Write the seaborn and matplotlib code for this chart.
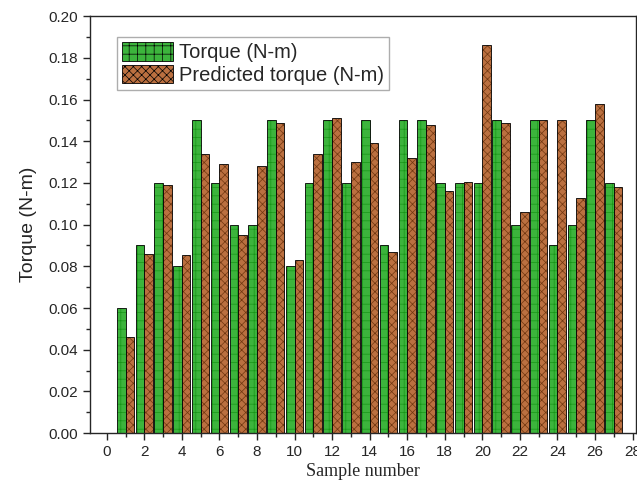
import numpy as np
import pandas as pd
import matplotlib
matplotlib.use('Agg')
import matplotlib.pyplot as plt
from matplotlib.ticker import MultipleLocator
import seaborn as sns

# values
samples = list(range(1, 28))
torque = [0.06, 0.09, 0.12, 0.08, 0.15, 0.12, 0.10, 0.10, 0.15, 0.08,
          0.12, 0.15, 0.12, 0.15, 0.09, 0.15, 0.15, 0.12, 0.12, 0.12,
          0.15, 0.10, 0.15, 0.09, 0.10, 0.15, 0.12]
predicted = [0.046, 0.086, 0.119, 0.0855, 0.134, 0.129, 0.095, 0.128, 0.149, 0.083,
             0.134, 0.151, 0.130, 0.139, 0.087, 0.132, 0.148, 0.116, 0.1205, 0.186,
             0.149, 0.106, 0.150, 0.150, 0.113, 0.158, 0.118]
series_names = ['Torque (N-m)', 'Predicted torque (N-m)']

df = pd.DataFrame({
    'sample': samples * 2,
    'value': torque + predicted,
    'series': [series_names[0]] * len(samples) + [series_names[1]] * len(samples),
})

sns.set_style('ticks')
plt.rcParams['font.family'] = ['Liberation Sans', 'DejaVu Sans']
plt.rcParams['hatch.linewidth'] = 0.5

fig = plt.figure(figsize=(6.37, 4.91), dpi=100)
ax = fig.add_axes([0.141, 0.118, 0.858, 0.849])

colors = ['#28c828', '#cf6c2c']
sns.barplot(data=df, x='sample', y='value', hue='series', native_scale=True,
            palette=colors, width=0.92, dodge=True, edgecolor='black',
            linewidth=0.6, ax=ax, legend=True)

# green bars get a grid pattern, orange bars a fine cross pattern
hatches = {series_names[0]: '++', series_names[1]: 'xxxx'}
hatch_colors = ['#189618', '#70360f']
for cont, name, hc in zip(ax.containers, series_names, hatch_colors):
    for p in cont:
        p.set_hatch(hatches[name])
        p._hatch_color = matplotlib.colors.to_rgba(hc)

ax.set_xlim(-0.9, 28.2)
ax.set_ylim(0, 0.20)
ax.xaxis.set_major_locator(MultipleLocator(2))
ax.xaxis.set_minor_locator(MultipleLocator(1))
ax.yaxis.set_major_locator(MultipleLocator(0.02))
ax.yaxis.set_minor_locator(MultipleLocator(0.01))
ax.yaxis.set_major_formatter(matplotlib.ticker.FormatStrFormatter('%.2f'))
ax.tick_params(which='major', direction='out', length=5, width=1, labelsize=11)
ax.tick_params(which='minor', direction='out', length=3, width=1)
for s in ax.spines.values():
    s.set_linewidth(1)

ax.set_xlabel('Sample number', family=['Liberation Serif'], fontsize=13, labelpad=3)
ax.set_ylabel('Torque (N-m)', fontsize=14, labelpad=8)

leg = ax.legend(loc='upper left', bbox_to_anchor=(0.05, 0.95), fontsize=14.5,
                frameon=True, fancybox=False, edgecolor='#999999',
                handlelength=2.5, handleheight=1.05, handletextpad=0.3,
                labelspacing=0.12, borderpad=0.25, borderaxespad=0.0)
for h, name, hc in zip(leg.legend_handles, series_names, hatch_colors):
    h.set_hatch(hatches[name])
    h._hatch_color = matplotlib.colors.to_rgba(hc)
    h.set_edgecolor('black')

fig.savefig('out.png', dpi=100)
